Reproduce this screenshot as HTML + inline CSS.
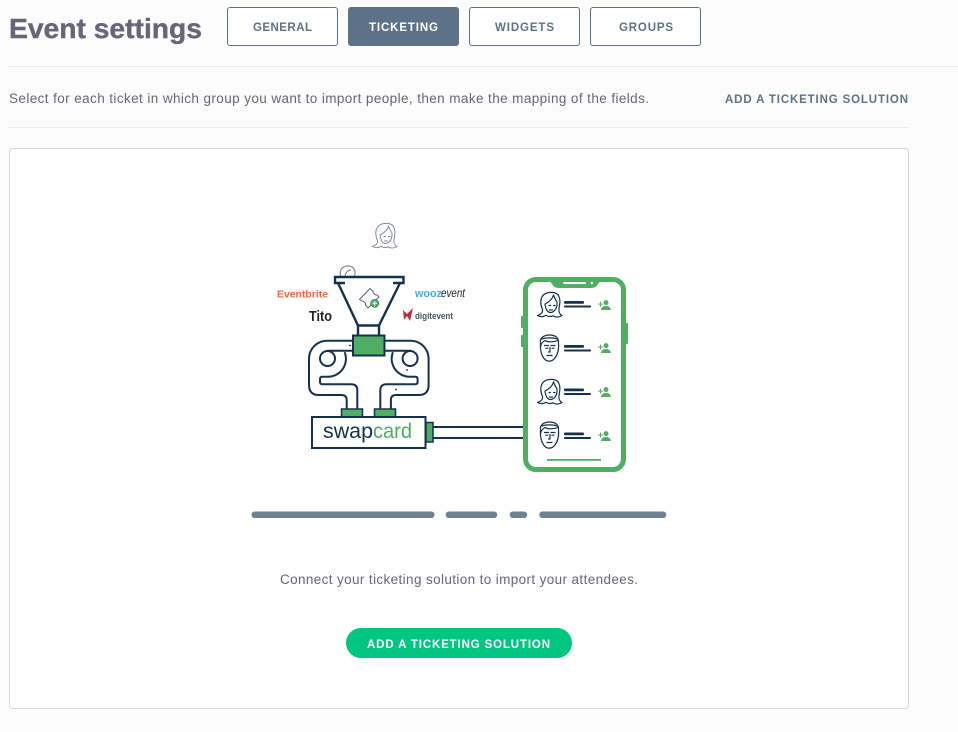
<!DOCTYPE html>
<html lang="en">
<head>
<meta charset="utf-8">
<title>Event settings</title>
<style>
html,body{margin:0;padding:0;width:958px;height:732px;overflow:hidden;background:#fcfcfd}
svg{display:block;font-family:"Liberation Sans",sans-serif}
</style>
</head>
<body>
<svg width="958" height="732" viewBox="0 0 958 732" xmlns="http://www.w3.org/2000/svg">
<defs>
<g id="woman" fill="none" stroke-linejoin="round" stroke-linecap="round">
  <path d="M0.500 23.500C3.500 22.500 6 20.500 5.500 17.500C3 12 3 6 7 2.500C11 -0.500 19 -0.500 21.500 3.500C24 8 22.500 13 22 16.500C21.500 20 23 22.500 25 23.500C22 25.500 18.500 25.500 16 23.800C14 24.800 11 24.800 9 23.300C6.500 25 3 25 0.500 23.500Z" fill="#fff"/>
  <path d="M8 12C12 10 15.500 7 16.500 3C17.500 6 19 8.500 20 10C20.500 15 18 20.500 13.500 20.500C10.500 20.500 8.500 17 8 12Z"/>
  <path d="M12 13.500h1.500M16.500 13.500h1.500M12.500 18h3"/>
</g>
<g id="man" fill="none" stroke-linejoin="round" stroke-linecap="round">
  <path d="M1.500 8C0.500 3 5 0 10.500 0C16 0 20 2.500 19.500 8C20 14 19 19.500 15.500 23.500C13 27 7.500 27 5 23.500C2 19.500 1 14 1.500 8Z" fill="#fff"/>
  <path d="M1.500 12C2 8 4 6.500 6 5.500C9 7.500 15 7 19 5.500M3 4C7 2.500 14 2.500 18 4"/>
  <path d="M5.500 10.500h4M12 10.500h4M6.800 13.200h2M13 13.200h2M11 12.500v4.500h-1.500M8 20.500h5"/>
</g>
<g id="add" fill="#4fae62">
  <circle cx="8" cy="2.600" r="2.500"/>
  <path d="M3 10C3.200 6.900 5.500 6 8 6C10.500 6 12.600 6.900 12.800 10Z"/>
  <rect x="0" y="3.600" width="5" height="1"/>
  <rect x="2" y="1.600" width="1" height="5"/>
</g>
</defs>

<rect width="958" height="732" fill="#fcfcfd"/>

<text x="9" y="38" font-size="28" font-weight="700" fill="#66667a" stroke="#66667a" stroke-width=".4" textLength="193" lengthAdjust="spacingAndGlyphs">Event settings</text>

<g fill="none" stroke="#5d7289" stroke-width="1">
  <rect x="227.500" y="7.500" width="110" height="38" rx="2.500" fill="#fff"/>
  <rect x="348.500" y="7.500" width="110" height="38" rx="2.500" fill="#5d7289"/>
  <rect x="469.500" y="7.500" width="110" height="38" rx="2.500" fill="#fff"/>
  <rect x="590.500" y="7.500" width="110" height="38" rx="2.500" fill="#fff"/>
</g>
<g font-size="11.500" font-weight="700" fill="#5d7289">
  <text x="253" y="31" textLength="59">GENERAL</text>
  <text x="369" y="31" textLength="69" fill="#fff">TICKETING</text>
  <text x="495" y="31" textLength="59">WIDGETS</text>
  <text x="619" y="31" textLength="54">GROUPS</text>
  <text x="725" y="103" textLength="183">ADD A TICKETING SOLUTION</text>
</g>

<rect x="9" y="66" width="949" height="1" fill="#ececec"/>
<text x="9" y="103" font-size="13.500" fill="#66667a" textLength="640">Select for each ticket in which group you want to import people, then make the mapping of the fields.</text>
<rect x="9" y="127" width="900" height="1" fill="#ececec"/>

<rect x="9.500" y="148.500" width="899" height="560" rx="3" fill="#fff" stroke="#d8d8d8"/>

<!-- floating woman -->
<use href="#woman" transform="translate(372 223)" stroke="#7d8c9c" stroke-width="1"/>

<!-- small head behind funnel -->
<g fill="none" stroke="#7d8c9c" stroke-width="1.200">
  <path d="M341 277C338 270 343 266 348 266C353 266 357 270 354 277"/>
  <path d="M345 277C345 273 348 270 351 270"/>
</g>

<!-- funnel -->
<path d="M338 283L358 325.500H379L400 283Z" fill="#fff"/>
<g fill="none" stroke="#16304f" stroke-width="2.400">
  <path d="M338 283L358 325.500H379L400 283"/>
  <path d="M345 283H335V277H403.500V283H393"/>
  <path d="M358 325.500V335M379 325.500V335"/>
</g>
<!-- ticket in funnel -->
<path d="M359.500 299.500L370 288.500L373 291.500C373 293.500 375 295 377 295L379 297L368 308L365.500 305C366 303 364 301 362 301Z" fill="#fff" stroke="#53657a" stroke-width="1"/>
<circle cx="374.700" cy="303.300" r="4" fill="#4fae62" stroke="#2e6c44" stroke-width=".6"/>
<path d="M372.500 303.300h4.400M374.700 301.100v4.400" stroke="#fff" stroke-width="1"/>

<!-- logos -->
<text x="277" y="297.500" font-size="10.500" font-weight="700" fill="#f2643d" textLength="51" lengthAdjust="spacingAndGlyphs">Eventbrite</text>
<text x="309" y="321" font-size="15" font-weight="700" fill="#222" textLength="23" lengthAdjust="spacingAndGlyphs">Tito</text>
<text x="415" y="297" font-size="11" font-weight="700" fill="#42aee0" textLength="27" lengthAdjust="spacingAndGlyphs">wooz</text>
<text x="441" y="297" font-size="11.500" font-style="italic" fill="#222" textLength="24" lengthAdjust="spacingAndGlyphs">event</text>
<path d="M403 310L407 314L413 308L410 321L407 316L404 320Z" fill="#b8323c"/>
<text x="415" y="319" font-size="9.500" font-weight="700" fill="#46546a" textLength="38" lengthAdjust="spacingAndGlyphs">digitevent</text>

<!-- conveyor -->
<g fill="none" stroke="#16304f" stroke-width="2" stroke-linecap="round">
  <path d="M352 340.700H327A18 18 0 0 0 309 358.500V385Q309 395 319 395H341.500Q346.700 395 346.700 400V409"/>
  <path d="M327.300 350.700H352M345 353A18 18 0 0 1 327 376.700H322Q320 376.700 320 379V382Q320 384.300 323 384.300H351Q357.300 384.300 357.300 390V409"/>
  <circle cx="327.500" cy="358.500" r="7.500"/>
  <path d="M385.600 340.700H410.600A18 18 0 0 1 428.600 358.500V385Q428.600 395 418.600 395H396Q390.900 395 390.900 400V409"/>
  <path d="M410.300 350.700H385.600M392.600 353A18 18 0 0 0 410.600 376.700H415.600Q417.600 376.700 417.600 379V382Q417.600 384.300 414.600 384.300H386.600Q380.300 384.300 380.300 390V409"/>
  <circle cx="410.100" cy="358.500" r="7.500"/>
</g>
<circle cx="350" cy="345.500" r=".9" fill="#16304f"/>
<circle cx="407" cy="370" r=".9" fill="#16304f"/>
<circle cx="396" cy="389.500" r=".9" fill="#16304f"/>

<rect x="353" y="335.500" width="31.500" height="20" fill="#4fae62" stroke="#16304f" stroke-width="2"/>
<rect x="341.500" y="409" width="21" height="8" fill="#4fae62" stroke="#16304f" stroke-width="1.500"/>
<rect x="374.500" y="409" width="21" height="8" fill="#4fae62" stroke="#16304f" stroke-width="1.500"/>

<!-- swapcard -->
<rect x="312" y="417" width="113.500" height="31" fill="#fff" stroke="#16304f" stroke-width="2"/>
<text x="323" y="438" font-size="21" fill="#16304f" textLength="50" lengthAdjust="spacingAndGlyphs">swap</text>
<text x="373" y="438" font-size="21" fill="#4fae62" textLength="39" lengthAdjust="spacingAndGlyphs">card</text>
<rect x="426" y="422.500" width="7" height="19.500" fill="#4fae62" stroke="#16304f" stroke-width="1.500"/>
<path d="M433 427H524M433 438H524" stroke="#16304f" stroke-width="2" fill="none"/>

<!-- phone -->
<g fill="#4fae62">
  <rect x="521" y="316" width="3" height="12" rx="1"/>
  <rect x="521" y="335" width="3" height="12" rx="1"/>
  <rect x="625" y="323" width="3" height="21" rx="1"/>
</g>
<path d="M536 279.500H613A10.500 10.500 0 0 1 623.500 290V459A10.500 10.500 0 0 1 613 469.500H536A10.500 10.500 0 0 1 525.500 459V290A10.500 10.500 0 0 1 536 279.500Z" fill="#fff" stroke="#4fae62" stroke-width="5"/>
<path d="M549 280H601L598 284Q596 288 591 288H559Q554 288 552 284Z" fill="#4fae62"/>
<rect x="563" y="282" width="23" height="2" rx="1" fill="#fff"/>
<circle cx="592" cy="283" r="1.300" fill="#fff"/>
<rect x="547" y="459" width="54" height="1.800" fill="#4fae62"/>

<!-- rows -->
<g stroke="#16304f" stroke-width="1.200">
  <use href="#woman" transform="translate(537 292)"/>
  <use href="#man" transform="translate(539 335)"/>
  <use href="#woman" transform="translate(537 379)"/>
  <use href="#man" transform="translate(539 422)"/>
</g>
<g fill="#16304f">
  <rect x="564" y="301" width="20" height="2.800" rx="1.300"/><rect x="564" y="305.500" width="27" height="2" rx=".9"/>
  <rect x="564" y="345" width="20" height="2.800" rx="1.300"/><rect x="564" y="349.500" width="27" height="2" rx=".9"/>
  <rect x="564" y="388.500" width="20" height="2.800" rx="1.300"/><rect x="564" y="393" width="27" height="2" rx=".9"/>
  <rect x="564" y="432.500" width="20" height="2.800" rx="1.300"/><rect x="564" y="437" width="27" height="2" rx=".9"/>
</g>
<use href="#add" transform="translate(598 300)"/>
<use href="#add" transform="translate(598 343)"/>
<use href="#add" transform="translate(598 387)"/>
<use href="#add" transform="translate(598 431)"/>

<!-- text lines -->
<g fill="#6f8193">
  <rect x="251.500" y="511.500" width="183" height="6.500" rx="3.200"/>
  <rect x="445.700" y="511.500" width="51.500" height="6.500" rx="3.200"/>
  <rect x="509.700" y="511.500" width="17.500" height="6.500" rx="3.200"/>
  <rect x="539.300" y="511.500" width="127" height="6.500" rx="3.200"/>
</g>

<text x="280" y="584" font-size="13.500" fill="#66667a" textLength="358">Connect your ticketing solution to import your attendees.</text>

<rect x="346" y="628" width="226" height="30" rx="15" fill="#00c77f"/>
<text x="367" y="648" font-size="11.500" font-weight="700" fill="#fff" textLength="183">ADD A TICKETING SOLUTION</text>
</svg>
</body>
</html>
